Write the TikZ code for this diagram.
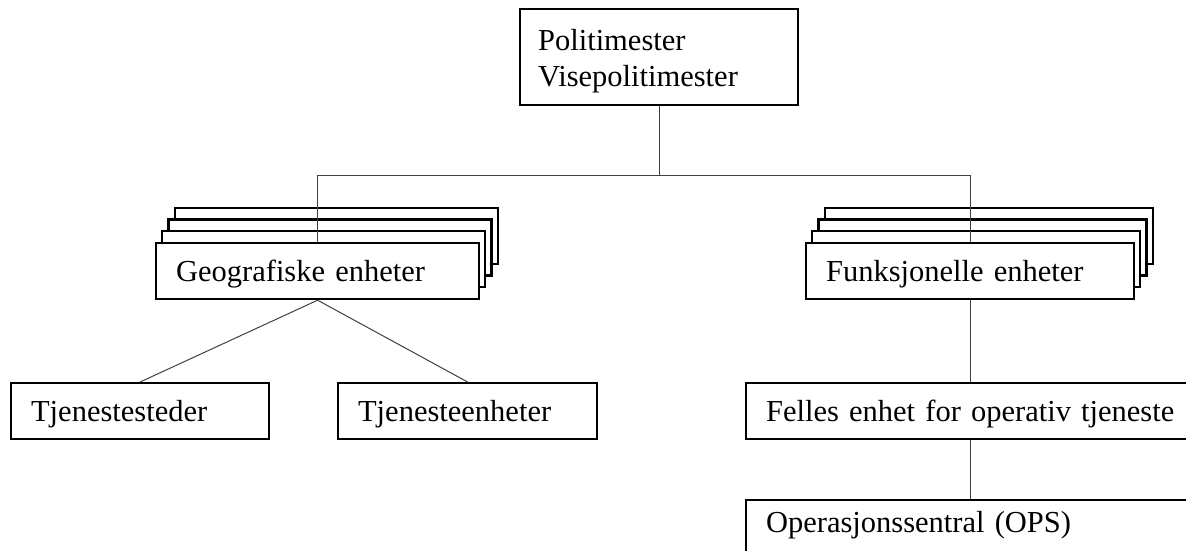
\documentclass[tikz,border=0pt]{standalone}
\usepackage{fontspec}
\setmainfont{Liberation Serif}
\usetikzlibrary{shadows}
\tikzset{
  box/.style={draw, fill=white, line width=2.2pt, anchor=north west, align=left, inner xsep=20pt,
    font=\fontsize{30.5}{36}\selectfont},
  unit/.style={box, minimum height=56pt, text height=27pt, text depth=7pt},
  stack/.style={
    general shadow={shadow xshift=18.6pt, shadow yshift=35.4pt, draw, fill=white, line width=2.2pt},
    general shadow={shadow xshift=12.4pt, shadow yshift=23.6pt, draw, fill=white, line width=2.2pt},
    general shadow={shadow xshift=6.2pt, shadow yshift=11.8pt, draw, fill=white, line width=2.2pt}},
  link/.style={line width=1pt, draw=black!75}
}
\begin{document}
\begin{tikzpicture}[x=1pt,y=-1pt]
  \useasboundingbox (0,0) rectangle (1186,551);
  \node[box, inner xsep=18pt, text width=242pt, minimum height=96pt] (chief) at (519,8)
    {\rule{0pt}{30pt}Politimester\\Visepolitimester};
  \node[unit, stack, text width=283pt] (geo) at (155,242) {Geografiske enheter};
  \node[unit, stack, text width=288pt] (funk) at (805,242) {Funksjonelle enheter};
  \node[unit, text width=218pt] (sted) at (10,382) {Tjenestesteder};
  \node[unit, text width=219pt] (enh) at (337,382) {Tjenesteenheter};
  \node[unit, text width=430pt] (felles) at (745,382) {Felles enhet for operativ tjeneste};
  \node[box, text width=430pt, inner ysep=11pt, text height=21pt, text depth=16pt] (ops) at (745,499)
    {Operasjonssentral (OPS)};

  \draw[link] (chief.south) -- ++(0,69) -| (geo.north);
  \draw[link] (chief.south) -- ++(0,69) -| (funk.north);
  \draw[link] (geo.south) -- (sted.north);
  \draw[link] (geo.south) -- (enh.north);
  \draw[link] (funk.south) -- (funk.south |- felles.north);
  \draw[link] (funk.south |- felles.south) -- (funk.south |- ops.north);
\end{tikzpicture}
\end{document}
